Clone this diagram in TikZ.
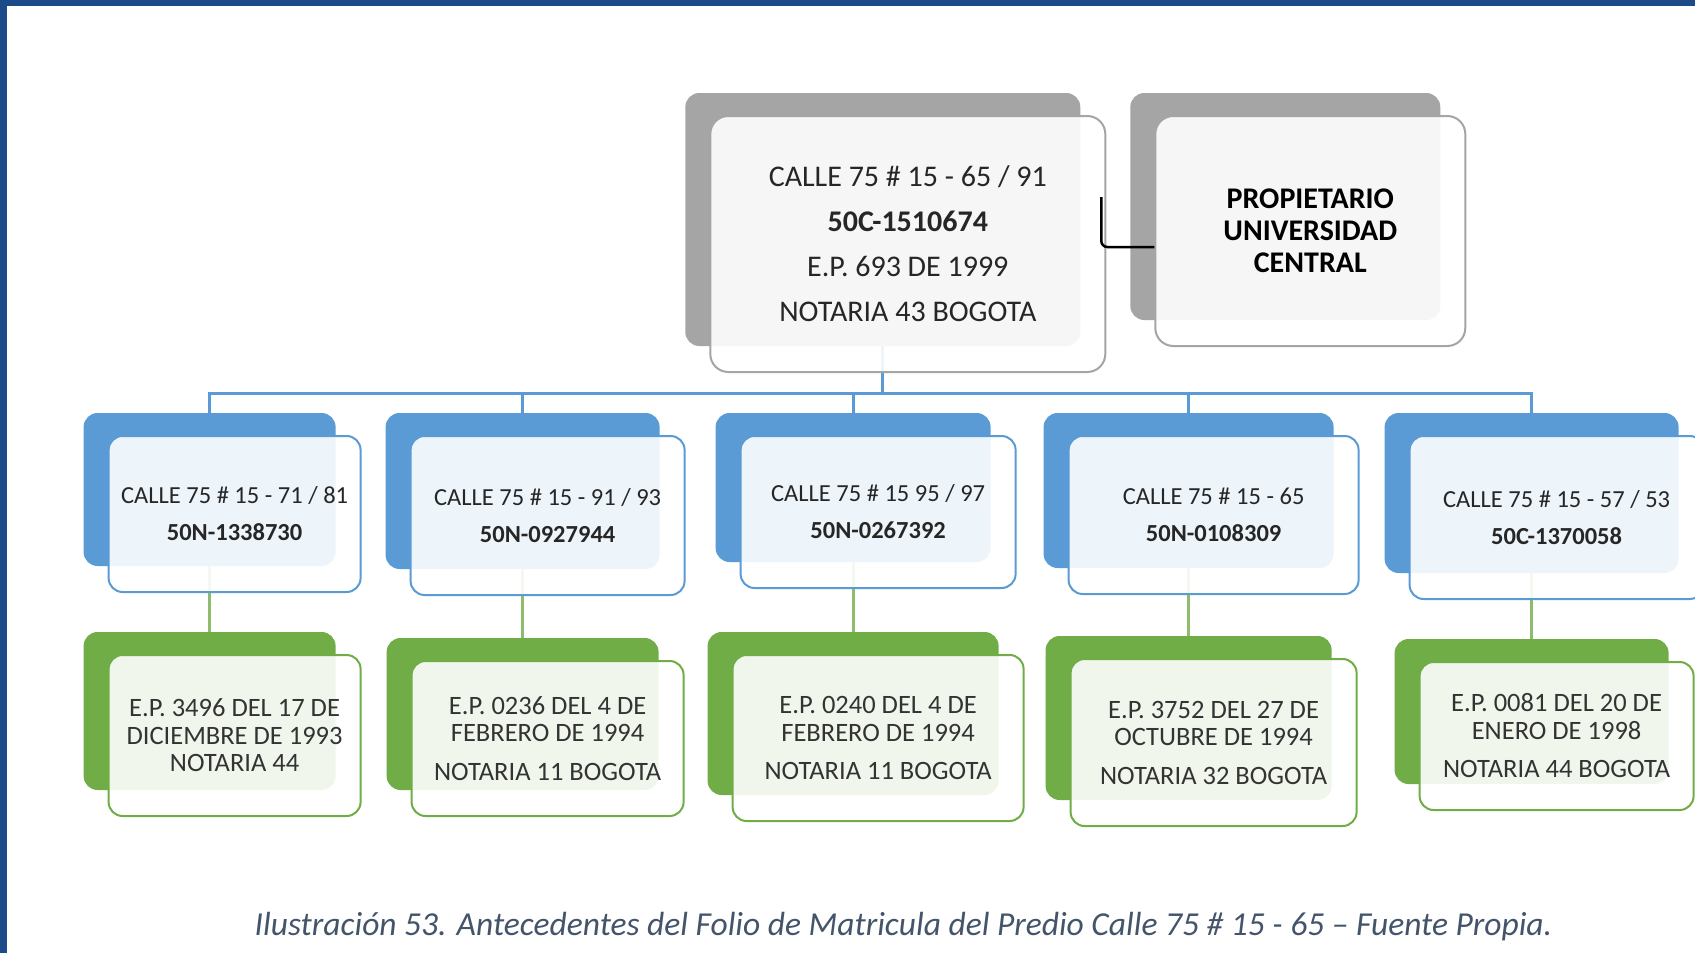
\documentclass[tikz,border=0pt]{standalone}
\usepackage{fontspec}
\setmainfont{Carlito}
\usetikzlibrary{positioning, calc}
\definecolor{shadegray}{HTML}{A5A5A5}
\definecolor{shadeblue}{HTML}{5B9BD5}
\definecolor{shadegreen}{HTML}{70AD47}
\definecolor{captionblue}{HTML}{44546A}
\definecolor{frameblue}{HTML}{1D4B89}
\pgfdeclarelayer{back}
\pgfsetlayers{back,main}

\begin{document}
\begin{tikzpicture}[x=1pt, y=-1pt]
  \tikzstyle{cardnode}=[draw, rounded corners=14pt, line width=2pt, align=center, inner sep=0pt, fill=white, fill opacity=0.9, text opacity=1, text=black!85]
  \tikzstyle{grayfront}=[cardnode, draw=shadegray, rounded corners=18pt, font=\fontsize{30}{45}\selectfont]
  \tikzstyle{bluefront}=[cardnode, draw=shadeblue, font=\fontsize{24.5}{37}\selectfont]
  \tikzstyle{greenfront}=[cardnode, draw=shadegreen, text=black!80, font=\fontsize{26.5}{27.5}\selectfont]
  \tikzstyle{busline}=[draw=shadeblue, line width=3pt]
  \tikzstyle{stemline}=[draw=shadegreen!80, line width=3pt]
  \tikzstyle{ownerline}=[draw=black, line width=2.5pt, rounded corners=6pt]

  \useasboundingbox (0,0) rectangle (1695,953);
  \fill[frameblue] (0,0) rectangle (1695,6);
  \fill[frameblue] (0,0) rectangle (7,953);

  \node[grayfront, minimum width=395pt, minimum height=256pt] (main) at (907.8,244) {CALLE 75 \# 15 - 65 / 91\\\textbf{50C-1510674}\\E.P. 693 DE 1999\\NOTARIA 43 BOGOTA};
  \node[grayfront, text=black, font=\bfseries\fontsize{30}{32}\selectfont, minimum width=310pt, minimum height=230pt, right=48pt of main.north east, anchor=north west] (prop) {PROPIETARIO\\UNIVERSIDAD\\CENTRAL};

  \node[bluefront, minimum width=252pt, minimum height=156pt] (b1) at (234.6,514) {CALLE 75 \# 15 - 71 / 81\\\textbf{50N-1338730}};
  \node[bluefront, minimum width=274pt, minimum height=159pt, right=48pt of b1.north east, anchor=north west] (b2) {CALLE 75 \# 15 - 91 / 93\\\textbf{50N-0927944}};
  \node[bluefront, minimum width=275pt, minimum height=152pt, right=54pt of b2.north east, anchor=north west] (b3) {CALLE 75 \# 15 95 / 97\\\textbf{50N-0267392}};
  \node[bluefront, minimum width=290pt, minimum height=158pt, right=51pt of b3.north east, anchor=north west] (b4) {CALLE 75 \# 15 - 65\\\textbf{50N-0108309}};
  \node[bluefront, minimum width=294pt, minimum height=163pt, right=49pt of b4.north east, anchor=north west] (b5) {CALLE 75 \# 15 - 57 / 53\\\textbf{50C-1370058}};

  \node[greenfront, minimum width=252pt, minimum height=161pt, below=61pt of b1] (g1) {E.P. 3496 DEL 17 DE\\DICIEMBRE DE 1993\\NOTARIA 44};
  \node[greenfront, minimum width=272pt, minimum height=155pt, below=64pt of b2] (g2) {E.P. 0236 DEL 4 DE\\FEBRERO DE 1994\\[11pt]NOTARIA 11 BOGOTA};
  \node[greenfront, minimum width=291pt, minimum height=166pt, below=65pt of b3] (g3) {E.P. 0240 DEL 4 DE\\FEBRERO DE 1994\\[11pt]NOTARIA 11 BOGOTA};
  \node[greenfront, minimum width=286pt, minimum height=167pt, below=63pt of b4] (g4) {E.P. 3752 DEL 27 DE\\OCTUBRE DE 1994\\[11pt]NOTARIA 32 BOGOTA};
  \node[greenfront, minimum width=274pt, minimum height=148pt, below=61pt of b5] (g5) {E.P. 0081 DEL 20 DE\\ENERO DE 1998\\[11pt]NOTARIA 44 BOGOTA};

  \begin{pgfonlayer}{back}
    \fill[white] (0,0) rectangle (1695,953);
    % shadow cards behind each box
    \foreach \n/\c in {main/shadegray, prop/shadegray, b1/shadeblue, b2/shadeblue, b3/shadeblue, b4/shadeblue, b5/shadeblue, g1/shadegreen, g2/shadegreen, g3/shadegreen, g4/shadegreen, g5/shadegreen}
      \fill[\c, rounded corners=14pt] ($(\n.north west)+(-24,-22)$) rectangle ($(\n.south east)+(-26,-27)$);
    % tree lines
    \coordinate (bus) at ($(main.south)+(-25,20)$);
    \foreach \n in {b1,b2,b3,b4,b5}
      \draw[busline] ($(main.south)+(-25,-27)$) -- (bus) -| ($(\n.north)+(-25,-22)$);
    \foreach \n in {1,...,5}
      \draw[stemline] ($(b\n.south)+(-25,-27)$) -- ($(g\n.north)+(-25,-22)$);
  \end{pgfonlayer}

  \coordinate (ownerkink) at ($(main.east)+(-5,-47)$);
  \coordinate (ownerend) at ($(prop.west)+(0,16)$);
  \draw[ownerline] (ownerkink) |- (ownerend);

  \node[font=\itshape\fontsize{33.5}{38}\selectfont, text=captionblue] (caption) at (903.5,927) {Ilustración 53. Antecedentes del Folio de Matricula del Predio Calle 75 \# 15 - 65 – Fuente Propia.};
\end{tikzpicture}
\end{document}
